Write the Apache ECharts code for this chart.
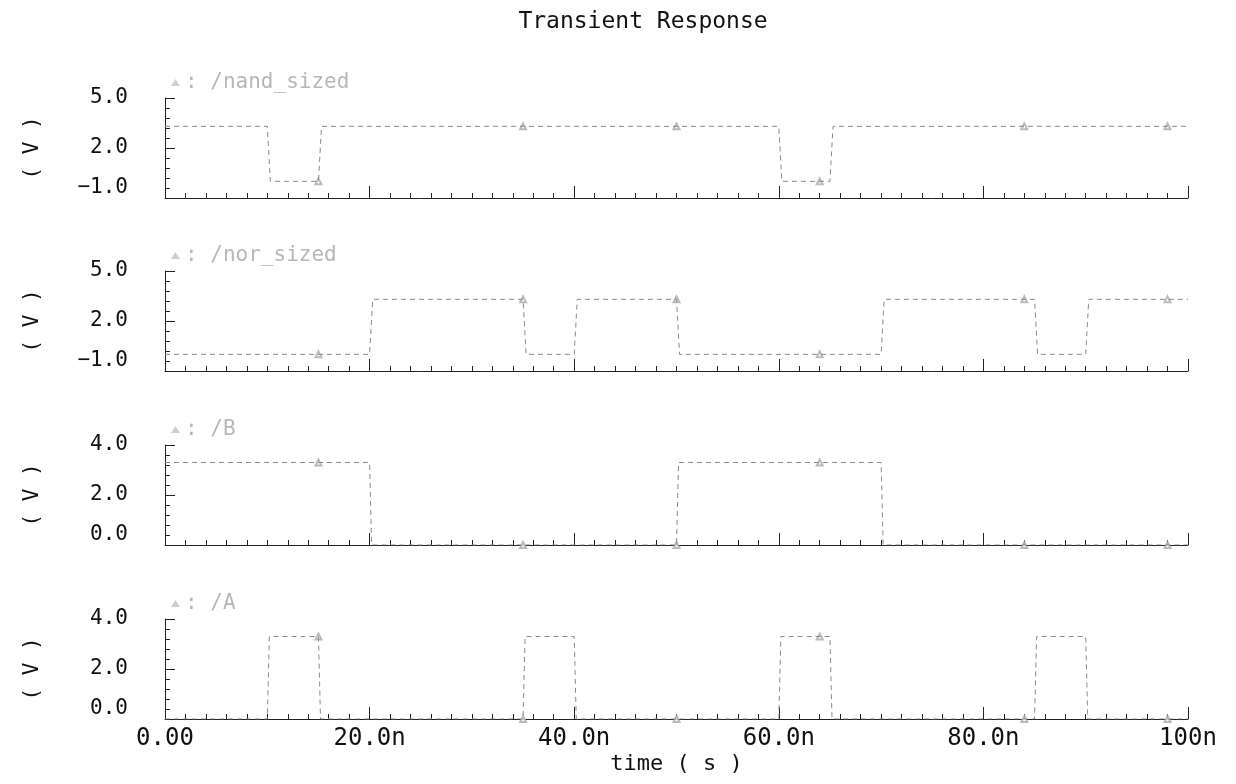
<!DOCTYPE html>
<html>
<head>
<meta charset="utf-8">
<title>Transient Response</title>
<script src="https://cdn.jsdelivr.net/npm/echarts@6/dist/echarts.min.js"></script>
<style>
  html, body { margin: 0; padding: 0; background: #fff; }
  #chart { width: 1236px; height: 784px; }
</style>
</head>
<body>
<div id="chart"></div>
<script>
// signal names, top to bottom
const signalNames = ['/nand_sized', '/nor_sized', '/B', '/A']

// transition points (time in ns, level in V)
const nandTime = [0, 10, 10.3, 15, 15.3, 60, 60.3, 65, 65.3, 100]
const nandVolt = [3.3, 3.3, 0, 0, 3.3, 3.3, 0, 0, 3.3, 3.3]

const norTime = [0, 20, 20.3, 35, 35.3, 40, 40.3, 50, 50.3, 70, 70.3, 85, 85.3, 90, 90.3, 100]
const norVolt = [0, 0, 3.3, 3.3, 0, 0, 3.3, 3.3, 0, 0, 3.3, 3.3, 0, 0, 3.3, 3.3]

const bTime = [0, 20, 20.2, 50, 50.2, 70, 70.2, 100]
const bVolt = [3.3, 3.3, 0, 0, 3.3, 3.3, 0, 0]

const aTime = [0, 10, 10.2, 15, 15.2, 35, 35.2, 40, 40.2, 60, 60.2, 65, 65.2, 85, 85.2, 90, 90.2, 100]
const aVolt = [0, 0, 3.3, 3.3, 0, 0, 3.3, 3.3, 0, 0, 3.3, 3.3, 0, 0, 3.3, 3.3, 0, 0]

// times where the simulator drew its curve markers
const markerTimes = [15, 35, 50, 64, 84, 98]

// axis ranges and tick labels
const yRanges = [[-1, 5, 3], [-1, 5, 3], [0, 4, 2], [0, 4, 2]]
const xTickLabels = ['0.00', '20.0n', '40.0n', '60.0n', '80.0n', '100n']

const traces = [
  [nandTime, nandVolt],
  [norTime, norVolt],
  [bTime, bVolt],
  [aTime, aVolt],
]

const gridTops = [98, 271, 445, 619]
const FONT = '"DejaVu Sans Mono", monospace'
const LINE_COLOR = '#8a8a8a'

function levelAt(times, volts, t) {
  let v = volts[0]
  times.forEach((tt, i) => { if (tt <= t) v = volts[i] })
  return v
}

const chart = echarts.init(document.getElementById('chart'))

const grids = gridTops.map(top => ({ left: 165, right: 48, top, height: 100 }))

const xAxes = gridTops.map((_, i) => ({
  type: 'value',
  gridIndex: i,
  min: 0,
  max: 100,
  interval: 20,
  axisLine: { show: true, onZero: false, lineStyle: { color: '#222', width: 1 } },
  axisTick: { show: true, inside: true, length: 12, lineStyle: { color: '#222' } },
  minorTick: { show: true, splitNumber: 10, length: 5, lineStyle: { color: '#222' } },
  splitLine: { show: false },
  axisLabel: {
    show: i === 3,
    margin: 8,
    fontFamily: FONT,
    fontSize: 24,
    color: '#111',
    formatter: v => xTickLabels[Math.round(v / 20)],
  },
  name: i === 3 ? 'time ( s )' : '',
  nameLocation: 'middle',
  nameGap: 34,
  nameTextStyle: { fontFamily: FONT, fontSize: 22, color: '#111' },
}))

const yAxes = yRanges.map(([min, max, interval], i) => ({
  type: 'value',
  gridIndex: i,
  min,
  max,
  interval,
  axisLine: { show: true, onZero: false, lineStyle: { color: '#222', width: 1 } },
  axisTick: { show: true, inside: true, length: 10, lineStyle: { color: '#222' } },
  minorTick: { show: true, splitNumber: 5, length: 5, lineStyle: { color: '#222' } },
  splitLine: { show: false },
  axisLabel: {
    margin: 37,
    fontFamily: FONT,
    fontSize: 21,
    color: '#111',
    verticalAlignMinLabel: 'bottom',
    verticalAlignMaxLabel: 'middle',
    formatter: v => v.toFixed(1).replace('-', '\u2212'),
  },
  name: '( V )',
  nameLocation: 'middle',
  nameRotate: 90,
  nameGap: 122,
  nameTextStyle: { fontFamily: FONT, fontSize: 21, color: '#111' },
}))

const lineSeries = traces.map(([times, volts], i) => ({
  name: signalNames[i],
  type: 'line',
  xAxisIndex: i,
  yAxisIndex: i,
  data: times.map((t, k) => [t, volts[k]]),
  showSymbol: false,
  symbol: 'triangle',
  lineStyle: { color: LINE_COLOR, width: 1, type: [5, 4] },
  itemStyle: { color: '#bbb' },
  silent: true,
}))

const markerSeries = traces.map(([times, volts], i) => ({
  name: signalNames[i],
  type: 'scatter',
  xAxisIndex: i,
  yAxisIndex: i,
  data: markerTimes.map(t => [t, levelAt(times, volts, t)]),
  symbol: 'emptyTriangle',
  symbolSize: 6,
  itemStyle: { color: '#aaa', borderColor: '#aaa' },
  silent: true,
}))

const legends = gridTops.map((top, i) => ({
  data: [signalNames[i]],
  left: 166,
  top: top - 31,
  icon: 'triangle',
  itemWidth: 9,
  itemHeight: 7,
  formatter: name => ': ' + name,
  selectedMode: false,
  itemStyle: { color: '#cfcfcf' },
  textStyle: { fontFamily: FONT, fontSize: 21, color: '#b8b8b8' },
}))

chart.setOption({
  animation: false,
  backgroundColor: '#fff',
  title: {
    text: 'Transient Response',
    left: 638,
    top: 6,
    textAlign: 'center',
    textStyle: { fontFamily: FONT, fontSize: 23, fontWeight: 'normal', color: '#111' },
  },
  legend: legends,
  grid: grids,
  xAxis: xAxes,
  yAxis: yAxes,
  series: [...lineSeries, ...markerSeries],
})
</script>
</body>
</html>
